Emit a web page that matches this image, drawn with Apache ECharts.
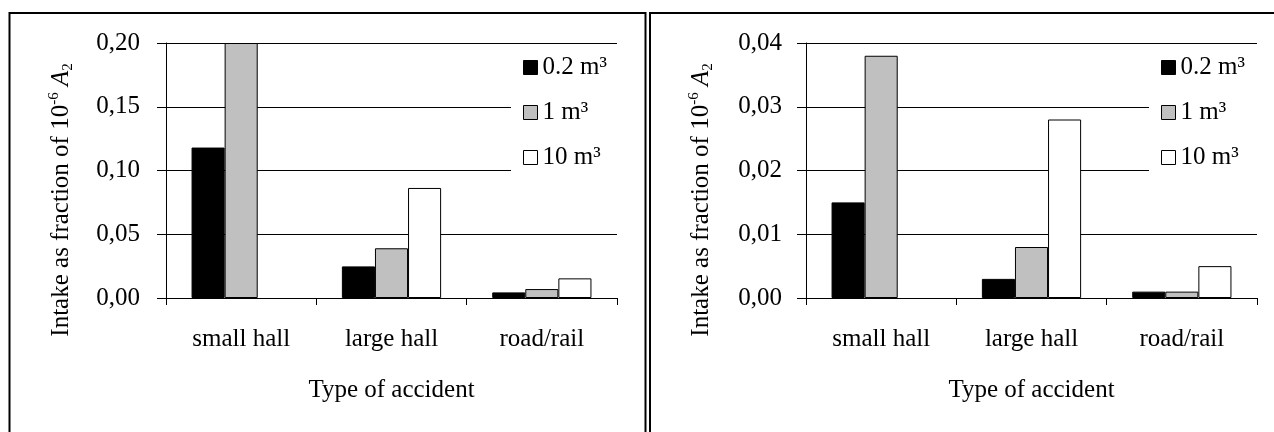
<!DOCTYPE html>
<html>
<head>
<meta charset="utf-8">
<script src="https://cdn.jsdelivr.net/npm/echarts@6/dist/echarts.min.js"></script>
<style>
html,body{margin:0;padding:0;background:#fff;}
#c{width:1274px;height:432px;}
</style>
</head>
<body>
<div id="c"></div>
<script>
// ---- data ----
var categories = ['small hall', 'large hall', 'road/rail'];
var seriesNames = ['0.2 m³', '1 m³', '10 m³'];
// left chart (values per category)
var left02 = [0.118, 0.0248, 0.0044];
var left1 = [0.2, 0.039, 0.007];
var left10 = [null, 0.0863, 0.0154];
var leftTicks = ['0,00', '0,05', '0,10', '0,15', '0,20'];
var leftMax = 0.2, leftStep = 0.05;
// right chart
var right02 = [0.015, 0.003, 0.001];
var right1 = [0.038, 0.008, 0.001];
var right10 = [null, 0.028, 0.005];
var rightTicks = ['0,00', '0,01', '0,02', '0,03', '0,04'];
var rightMax = 0.04, rightStep = 0.01;

var xName = 'Type of accident';
var yNameRich = '{n|Intake as fraction of 10}{sup|-6}{n| }{i|A}{sub|2}';

var FONT = '"Liberation Serif", "Times New Roman", serif';
var FS = 25;
var colors = ['#000000', '#c0c0c0', '#ffffff'];

function tickFmt(ticks, step) {
  return function (v) {
    var i = Math.round(v / step);
    return ticks[i] !== undefined ? ticks[i] : '';
  };
}

function xAxisCfg(gi) {
  return {
    type: 'category', gridIndex: gi, data: categories,
    axisLine: {lineStyle: {color: '#000', width: 1}},
    axisTick: {show: true, length: 7, lineStyle: {color: '#000'}},
    axisLabel: {color: '#000', fontFamily: FONT, fontSize: FS, margin: 29},
    name: xName, nameLocation: 'middle', nameGap: 80,
    nameTextStyle: {color: '#000', fontFamily: FONT, fontSize: FS}
  };
}
function yAxisCfg(gi, max, step, ticks, margin) {
  return {
    type: 'value', gridIndex: gi, min: 0, max: max, interval: step,
    axisLine: {show: true, lineStyle: {color: '#000', width: 1}},
    axisTick: {show: true, length: 9, lineStyle: {color: '#000'}},
    splitLine: {show: true, lineStyle: {color: '#000', width: 1}},
    axisLabel: {color: '#000', fontFamily: FONT, fontSize: FS, margin: margin, formatter: tickFmt(ticks, step)}
  };
}
function barSeries(name, data, gi, ci) {
  return {
    type: 'bar', name: name, data: data, xAxisIndex: gi, yAxisIndex: gi,
    barGap: '0%', barCategoryGap: '34%', clip: true,
    itemStyle: {color: colors[ci], borderColor: '#000', borderWidth: 1},
    emphasis: {disabled: true}, animation: false
  };
}
function legendCfg(left) {
  return {
    orient: 'vertical', left: left, top: 47,
    data: seriesNames, icon: 'rect', itemWidth: 14, itemHeight: 14,
    itemGap: 20, itemTextGap: 4, padding: [8, 22, 8, 12],
    backgroundColor: '#fff', selectedMode: false,
    itemStyle: {borderColor: '#000', borderWidth: 1},
    textStyle: {color: '#000', fontFamily: FONT, fontSize: FS}
  };
}
var richStyle = {
  n: {fontFamily: FONT, fontSize: FS, lineHeight: 29, fill: '#000'},
  sup: {fontFamily: FONT, fontSize: 15, lineHeight: 15, verticalAlign: 'top', fill: '#000'},
  sub: {fontFamily: FONT, fontSize: 15, lineHeight: 15, verticalAlign: 'bottom', fill: '#000'},
  i: {fontFamily: FONT, fontSize: FS, lineHeight: 29, fontStyle: 'italic', fill: '#000'}
};

var chart = echarts.init(document.getElementById('c'), null, {renderer: 'canvas'});
chart.setOption({
  animation: false,
  backgroundColor: '#fff',
  grid: [
    {left: 166, top: 43, width: 451, height: 255},
    {left: 806, top: 43, width: 451, height: 255}
  ],
  xAxis: [xAxisCfg(0), xAxisCfg(1)],
  yAxis: [yAxisCfg(0, leftMax, leftStep, leftTicks, 26), yAxisCfg(1, rightMax, rightStep, rightTicks, 24)],
  legend: [legendCfg(511), legendCfg(1149)],
  series: [
    barSeries(seriesNames[0], left02, 0, 0),
    barSeries(seriesNames[1], left1, 0, 1),
    barSeries(seriesNames[2], left10, 0, 2),
    barSeries(seriesNames[0], right02, 1, 0),
    barSeries(seriesNames[1], right1, 1, 1),
    barSeries(seriesNames[2], right10, 1, 2)
  ],
  graphic: [
    {type: 'rect', shape: {x: 9.5, y: 13, width: 636, height: 500}, style: {fill: 'none', stroke: '#000', lineWidth: 2}, silent: true},
    {type: 'rect', shape: {x: 650, y: 13, width: 700, height: 500}, style: {fill: 'none', stroke: '#000', lineWidth: 2}, silent: true},
    {type: 'text', x: 61, y: 200, rotation: Math.PI / 2, silent: true,
      style: {text: yNameRich, align: 'center', verticalAlign: 'middle', rich: richStyle}},
    {type: 'text', x: 701, y: 200, rotation: Math.PI / 2, silent: true,
      style: {text: yNameRich, align: 'center', verticalAlign: 'middle', rich: richStyle}}
  ]
});
</script>
</body>
</html>
